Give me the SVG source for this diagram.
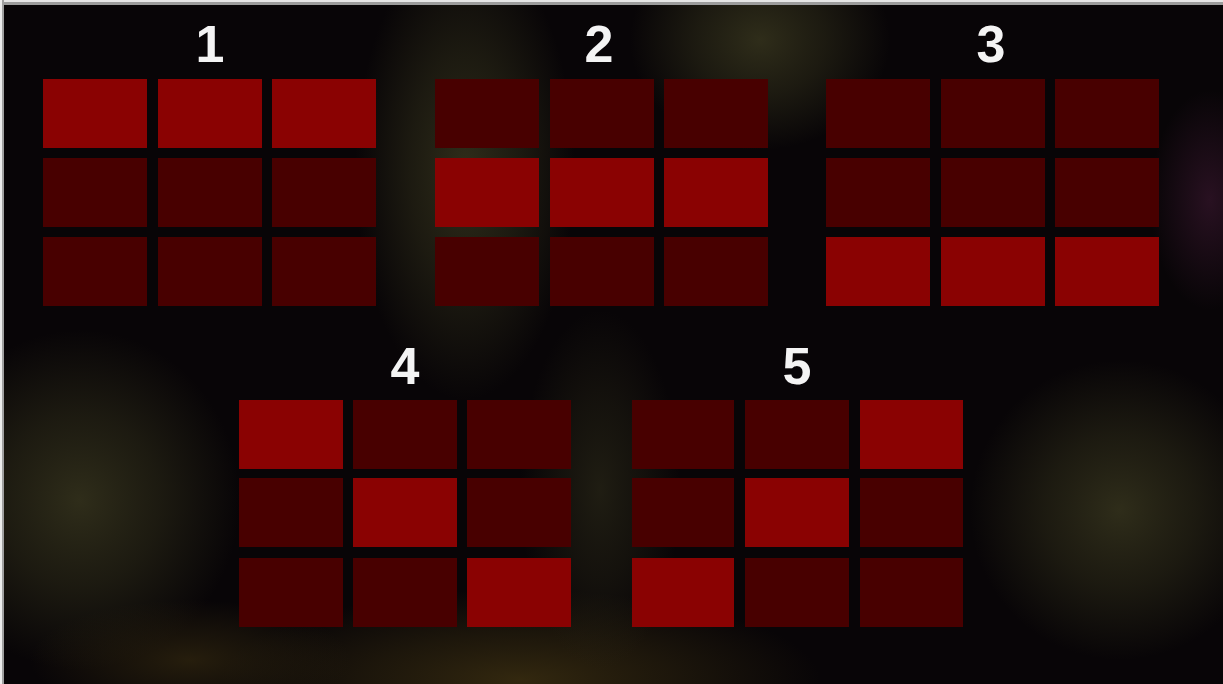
<svg xmlns="http://www.w3.org/2000/svg" width="1223" height="684" viewBox="0 0 1223 684">
  <defs>
    <radialGradient id="olive">
      <stop offset="0" stop-color="#2f2d1a" stop-opacity="1"/>
      <stop offset="0.5" stop-color="#2a2817" stop-opacity="0.6"/>
      <stop offset="1" stop-color="#2a2817" stop-opacity="0"/>
    </radialGradient>
    <radialGradient id="brown">
      <stop offset="0" stop-color="#33280f" stop-opacity="1"/>
      <stop offset="0.5" stop-color="#2b220e" stop-opacity="0.6"/>
      <stop offset="1" stop-color="#2b220e" stop-opacity="0"/>
    </radialGradient>
    <radialGradient id="purple">
      <stop offset="0" stop-color="#2c1224" stop-opacity="0.9"/>
      <stop offset="1" stop-color="#2c1224" stop-opacity="0"/>
    </radialGradient>
    <style>
      .on { fill: #8a0202; }
      .off { fill: #480000; }
      .lbl { font-family: "Liberation Sans", Arial, sans-serif; font-weight: bold; font-size: 52px; fill: #f4f4f4; text-anchor: middle; }
    </style>
  </defs>
  <g id="background">
    <rect x="0" y="0" width="1223" height="684" fill="#080507"/>
    <ellipse cx="465" cy="170" rx="110" ry="230" fill="url(#olive)"/>
    <ellipse cx="760" cy="40" rx="130" ry="110" fill="url(#olive)"/>
    <ellipse cx="80" cy="500" rx="160" ry="170" fill="url(#olive)"/>
    <ellipse cx="1120" cy="510" rx="150" ry="150" fill="url(#olive)"/>
    <ellipse cx="520" cy="680" rx="300" ry="90" fill="url(#brown)"/>
    <ellipse cx="600" cy="490" rx="80" ry="180" fill="url(#olive)" opacity="0.6"/>
    <ellipse cx="1210" cy="200" rx="60" ry="110" fill="url(#purple)"/>
    <ellipse cx="190" cy="660" rx="160" ry="60" fill="url(#brown)" opacity="0.7"/>
    <rect x="0" y="0" width="1223" height="5" fill="#9c9c9c"/>
    <rect x="0" y="0" width="1223" height="2" fill="#e6e6e6"/>
    <rect x="0" y="0" width="4" height="684" fill="#a0a0a0"/>
    <rect x="0" y="0" width="2" height="684" fill="#ececec"/>
  </g>
  <g id="grid1">
    <text class="lbl" x="210" y="62">1</text>
    <rect class="on" x="43" y="79" width="104" height="69"/>
    <rect class="on" x="158" y="79" width="104" height="69"/>
    <rect class="on" x="272" y="79" width="104" height="69"/>
    <rect class="off" x="43" y="158" width="104" height="69"/>
    <rect class="off" x="158" y="158" width="104" height="69"/>
    <rect class="off" x="272" y="158" width="104" height="69"/>
    <rect class="off" x="43" y="237" width="104" height="69"/>
    <rect class="off" x="158" y="237" width="104" height="69"/>
    <rect class="off" x="272" y="237" width="104" height="69"/>
  </g>
  <g id="grid2">
    <text class="lbl" x="599" y="62">2</text>
    <rect class="off" x="435" y="79" width="104" height="69"/>
    <rect class="off" x="550" y="79" width="104" height="69"/>
    <rect class="off" x="664" y="79" width="104" height="69"/>
    <rect class="on" x="435" y="158" width="104" height="69"/>
    <rect class="on" x="550" y="158" width="104" height="69"/>
    <rect class="on" x="664" y="158" width="104" height="69"/>
    <rect class="off" x="435" y="237" width="104" height="69"/>
    <rect class="off" x="550" y="237" width="104" height="69"/>
    <rect class="off" x="664" y="237" width="104" height="69"/>
  </g>
  <g id="grid3">
    <text class="lbl" x="991" y="62">3</text>
    <rect class="off" x="826" y="79" width="104" height="69"/>
    <rect class="off" x="941" y="79" width="104" height="69"/>
    <rect class="off" x="1055" y="79" width="104" height="69"/>
    <rect class="off" x="826" y="158" width="104" height="69"/>
    <rect class="off" x="941" y="158" width="104" height="69"/>
    <rect class="off" x="1055" y="158" width="104" height="69"/>
    <rect class="on" x="826" y="237" width="104" height="69"/>
    <rect class="on" x="941" y="237" width="104" height="69"/>
    <rect class="on" x="1055" y="237" width="104" height="69"/>
  </g>
  <g id="grid4">
    <text class="lbl" x="405" y="384">4</text>
    <rect class="on" x="239" y="400" width="104" height="69"/>
    <rect class="off" x="353" y="400" width="104" height="69"/>
    <rect class="off" x="467" y="400" width="104" height="69"/>
    <rect class="off" x="239" y="478" width="104" height="69"/>
    <rect class="on" x="353" y="478" width="104" height="69"/>
    <rect class="off" x="467" y="478" width="104" height="69"/>
    <rect class="off" x="239" y="558" width="104" height="69"/>
    <rect class="off" x="353" y="558" width="104" height="69"/>
    <rect class="on" x="467" y="558" width="104" height="69"/>
  </g>
  <g id="grid5">
    <text class="lbl" x="797" y="384">5</text>
    <rect class="off" x="632" y="400" width="102" height="69"/>
    <rect class="off" x="745" y="400" width="104" height="69"/>
    <rect class="on" x="860" y="400" width="103" height="69"/>
    <rect class="off" x="632" y="478" width="102" height="69"/>
    <rect class="on" x="745" y="478" width="104" height="69"/>
    <rect class="off" x="860" y="478" width="103" height="69"/>
    <rect class="on" x="632" y="558" width="102" height="69"/>
    <rect class="off" x="745" y="558" width="104" height="69"/>
    <rect class="off" x="860" y="558" width="103" height="69"/>
  </g>
  <g id="connectors"/>
</svg>
